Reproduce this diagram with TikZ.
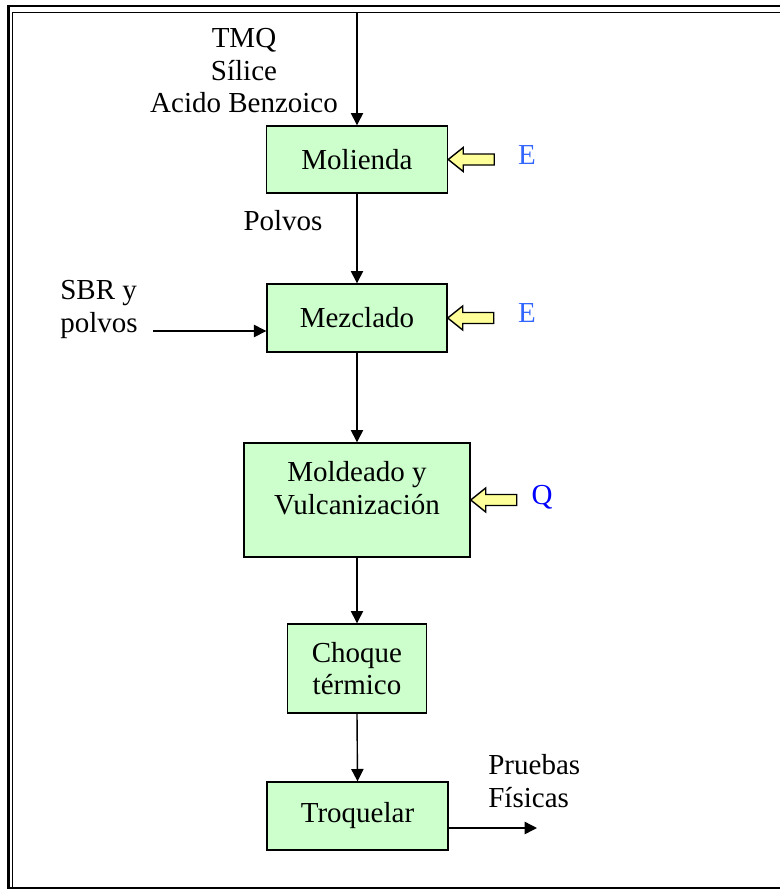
\documentclass[tikz,border=0pt]{standalone}
\usepackage{fontspec}
\setmainfont{Liberation Serif}
\usepackage{xcolor}
\usetikzlibrary{positioning}
\usetikzlibrary{arrows.meta}
\definecolor{verdecaja}{RGB}{204,255,204}
\definecolor{amarillo}{RGB}{255,255,153}
\definecolor{azulE}{RGB}{51,102,255}
\definecolor{azulQ}{RGB}{0,0,255}

\begin{document}
\begin{tikzpicture}[
		box/.style={draw, rectangle, fill=verdecaja, line width=0.8pt, align=center, inner sep=2pt},
		arrow/.style={-{Triangle[length=7pt,width=7pt]}, line width=0.8pt},
		calor/.style={draw, fill=amarillo, line width=0.8pt, line join=miter},
		font=\fontsize{16.5}{18.5}\selectfont
		]
		
		\useasboundingbox (0,0) rectangle (15.6,-17.8);
		\clip (0,0) rectangle (15.6,-17.8);
		
		% Marco doble
		\draw[line width=1.4pt] (15.7,-0.12) -- (0.17,-0.12) -- (0.17,-17.76) -- (15.7,-17.76);
		\draw[line width=0.8pt] (15.7,-0.25) -- (0.25,-0.25) -- (0.25,-17.74);
		
		% Etapas del proceso
		\node[box, minimum width=3.62cm, minimum height=1.34cm] (molienda) at (7.14,-3.19) {Molienda};
		\node[box, minimum width=3.6cm, minimum height=1.36cm] (mezclado) at (7.14,-6.36) {Mezclado};
		\node[box, minimum width=4.52cm, minimum height=2.28cm, text depth=0.48cm] (moldeado) at (7.14,-10.0) {Moldeado y\\Vulcanización};
		\node[box, minimum width=2.78cm, minimum height=1.78cm] (choque) at (7.14,-13.37) {Choque\\térmico};
		\node[box, minimum width=3.62cm, minimum height=1.36cm] (troquelar) at (7.15,-16.32) {Troquelar};
		
		% Entradas de energia
		\foreach \etapa in {molienda, mezclado, moldeado}
			\draw[calor] (\etapa.east) -- ++(0.3,0.24) -- ++(0,-0.13) -- ++(0.62,0)
				-- ++(0,-0.22) -- ++(-0.62,0) -- ++(0,-0.13) -- cycle;
		\node[text=azulE] (energiaA) at (10.54,-3.1) {E};
		\node[text=azulE] (energiaB) at (10.54,-6.26) {E};
		\node[text=azulQ] (calorQ) at (10.84,-9.94) {Q};
		
		% Materias y productos
		\node[align=center] (materias) at (4.88,-1.42) {TMQ\\Sílice\\Acido Benzoico};
		\node (polvos) at (5.66,-4.42) {Polvos};
		\node[align=left, anchor=west, inner sep=0pt] (sbr) at (1.2,-6.19) {SBR y\\polvos};
		\node[align=left, anchor=west, inner sep=0pt] (pruebas) at (9.76,-15.62) {Pruebas\\Físicas};
		
		\coordinate (entrada) at (7.14,-0.25);
		\coordinate (sbrin) at (3.06,-6.62);
		\coordinate (salida) at (10.74,-16.56);
		
		% Flechas del flujo
		\draw[arrow] (entrada) -- (molienda.north);
		\draw[arrow] (molienda.south) -- (mezclado.north);
		\draw[arrow] (sbrin) -- (sbrin -| mezclado.west);
		\draw[arrow] (mezclado.south) -- (moldeado.north);
		\draw[arrow] (moldeado.south) -- (choque.north);
		\draw[arrow] (choque.south) -- (troquelar.north);
		\draw[arrow] (troquelar.east |- salida) -- (salida);
		
	\end{tikzpicture}
\end{document}
